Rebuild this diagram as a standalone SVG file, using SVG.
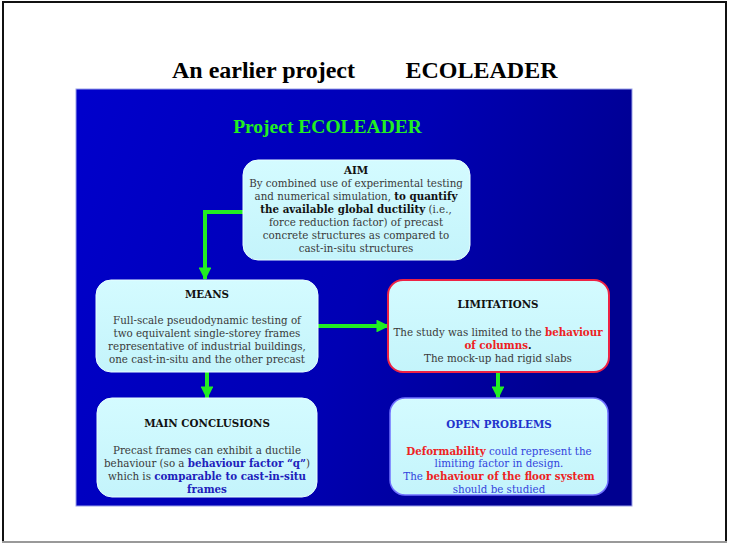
<svg xmlns="http://www.w3.org/2000/svg" width="729" height="543" viewBox="0 0 729 543">
<defs>
<linearGradient id="bg" x1="0" y1="0" x2="1" y2="0.3">
<stop offset="0" stop-color="#0000cc"/>
<stop offset="0.6" stop-color="#0000b4"/>
<stop offset="1" stop-color="#000090"/>
</linearGradient>
<linearGradient id="boxfill" x1="0" y1="0" x2="0" y2="1">
<stop offset="0" stop-color="#d4fbff"/>
<stop offset="1" stop-color="#c4f4fb"/>
</linearGradient>
<marker id="ah" viewBox="0 0 10 10" refX="9" refY="5" markerWidth="3.2" markerHeight="3.2" orient="auto" markerUnits="strokeWidth">
<path d="M0,0 L10,5 L0,10 Z" fill="#22ee22"/>
</marker>
<style>
.box{fill:url(#boxfill);stroke:#e8ffff;stroke-width:1}
.t{font-family:"DejaVu Serif","Liberation Serif",serif;font-size:10.3px;fill:#3a3a3a;text-anchor:middle}
.h{font-weight:bold;fill:#111}
.b{font-weight:bold;fill:#2020bb}
.r{font-weight:bold;fill:#ee2222}
.conn{stroke:#22ee22;stroke-width:4;fill:none}
.ttl{font-family:"Liberation Serif","Times New Roman",serif;font-weight:bold;text-anchor:middle}
</style>
</defs>
<rect x="0" y="0" width="729" height="543" fill="#ffffff"/>
<path d="M3,542 L3,2 L726,2 L726,542" fill="none" stroke="#111" stroke-width="2"/>
<line x1="2" y1="542" x2="727" y2="542" stroke="#999" stroke-width="2"/>
<text class="ttl" y="78" font-size="24" fill="#000"><tspan x="263.5">An earlier project</tspan><tspan x="481.5">ECOLEADER</tspan></text>
<rect x="76" y="89" width="556" height="417" fill="url(#bg)" stroke="#9aa0e8" stroke-width="1"/>
<text class="ttl" x="327.5" y="133" font-size="19.5" fill="#22ee22">Project ECOLEADER</text>
<g id="connectors">
<path class="conn" d="M243,212 L205,212 L205,279" marker-end="url(#ah)"/>
<path class="conn" d="M318,326 L388,326" marker-end="url(#ah)"/>
<path class="conn" d="M207,372 L207,398" marker-end="url(#ah)"/>
<path class="conn" d="M498,372 L498,398" marker-end="url(#ah)"/>
</g>
<g id="aim">
<rect class="box" x="243" y="160" width="227" height="100" rx="15"/>
<text class="t" x="356" y="174"><tspan class="h">AIM</tspan></text>
<text class="t" x="356" y="187">By combined use of experimental testing</text>
<text class="t" x="356" y="200">and numerical simulation, <tspan class="h">to quantify</tspan></text>
<text class="t" x="356" y="213"><tspan class="h">the available global ductility</tspan> (i.e.,</text>
<text class="t" x="356" y="226">force reduction factor) of precast</text>
<text class="t" x="356" y="239">concrete structures as compared to</text>
<text class="t" x="356" y="252">cast-in-situ structures</text>
</g>
<g id="means">
<rect class="box" x="96" y="280" width="222" height="92" rx="15"/>
<text class="t" x="207" y="298"><tspan class="h">MEANS</tspan></text>
<text class="t" x="207" y="324">Full-scale pseudodynamic testing of</text>
<text class="t" x="207" y="337">two equivalent single-storey frames</text>
<text class="t" x="207" y="350">representative of industrial buildings,</text>
<text class="t" x="207" y="363">one cast-in-situ and the other precast</text>
</g>
<g id="limitations">
<rect class="box" x="388" y="280" width="221" height="92" rx="15" style="stroke:#ee2244;stroke-width:2"/>
<text class="t" x="498" y="308"><tspan class="h">LIMITATIONS</tspan></text>
<text class="t" x="498" y="336">The study was limited to the <tspan class="r">behaviour</tspan></text>
<text class="t" x="498" y="349"><tspan class="r">of columns</tspan><tspan class="h">.</tspan></text>
<text class="t" x="498" y="362">The mock-up had rigid slabs</text>
</g>
<g id="conclusions">
<rect class="box" x="97" y="398" width="220" height="99" rx="15"/>
<text class="t" x="207" y="427"><tspan class="h">MAIN CONCLUSIONS</tspan></text>
<text class="t" x="207" y="454">Precast frames can exhibit a ductile</text>
<text class="t" x="207" y="467">behaviour (so a <tspan class="b">behaviour factor “q”</tspan>)</text>
<text class="t" x="207" y="480">which is <tspan class="b">comparable to cast-in-situ</tspan></text>
<text class="t" x="207" y="493"><tspan class="b">frames</tspan></text>
</g>
<g id="open">
<rect class="box" x="390" y="398" width="218" height="97" rx="15" style="stroke:#7070ff;stroke-width:1.5"/>
<text class="t" x="499" y="428" style="fill:#2233cc;font-weight:bold">OPEN PROBLEMS</text>
<text class="t" x="499" y="455" style="fill:#3344dd"><tspan class="r">Deformability</tspan> could represent the</text>
<text class="t" x="499" y="467" style="fill:#3344dd">limiting factor in design.</text>
<text class="t" x="499" y="480" style="fill:#3344dd">The <tspan class="r">behaviour of the floor system</tspan></text>
<text class="t" x="499" y="493" style="fill:#3344dd">should be studied</text>
</g>
</svg>
